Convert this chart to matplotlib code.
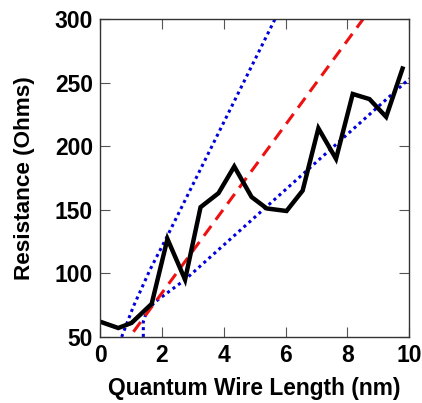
import matplotlib
matplotlib.use("Agg")
import matplotlib.pyplot as plt

# measured resistance vs wire length
length_nm = [0.0, 0.59, 1.02, 1.67, 2.18, 2.75, 3.25, 3.83, 4.34, 4.90,
             5.39, 6.03, 6.55, 7.06, 7.63, 8.17, 8.71, 9.25, 9.78]
resistance = [62, 57, 61, 76, 127, 95, 152, 163, 184, 160,
              151, 149, 165, 214, 190, 241, 237, 223, 261]

# red dashed fit
fit_x = [1.08, 8.51]
fit_y = [54, 300]

# blue dotted bounds
upper_x = [0.70, 1.08, 1.62, 2.17, 5.66]
upper_y = [50, 74, 103, 129, 300]
lower_x = [1.40, 1.40, 1.48, 1.75, 2.75, 10.0]
lower_y = [50, 62, 68, 77, 95, 253]

plt.rcParams["font.family"] = ["Liberation Sans", "DejaVu Sans"]
plt.rcParams["font.weight"] = "bold"

fig = plt.figure(figsize=(4.22, 4.03), dpi=100)
ax = fig.add_axes([0.237, 0.164, 0.733, 0.789])

ax.plot(upper_x, upper_y, color="#0000dd", ls=(0, (1, 1.2)), lw=2.2)
ax.plot(lower_x, lower_y, color="#0000dd", ls=(0, (1, 1.2)), lw=2.2)
ax.plot(fit_x, fit_y, color="#ee1111", ls=(0, (4, 2.5)), lw=2.2)
ax.plot(length_nm, resistance, color="black", lw=3.2, solid_joinstyle="miter")

ax.set_xlim(0, 10)
ax.set_ylim(50, 300)
ax.set_xticks([0, 2, 4, 6, 8, 10])
ax.set_yticks([50, 100, 150, 200, 250, 300])
ax.tick_params(direction="in", length=7, width=0.8, color="#555555",
               top=True, right=True, labelsize=16.5, pad=5)
for lab in ax.get_xticklabels() + ax.get_yticklabels():
    lab.set_fontweight("bold")
for s in ax.spines.values():
    s.set_linewidth(1.0)
    s.set_color("#333333")

ax.set_xlabel("Quantum Wire Length (nm)", fontsize=16.4, fontweight="bold", labelpad=7)
ax.set_ylabel("Resistance (Ohms)", fontsize=16.2, fontweight="bold", labelpad=14)

fig.savefig("out.png", dpi=100)
